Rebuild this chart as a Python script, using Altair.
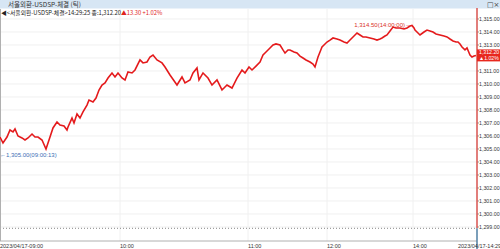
import altair as alt
import pandas as pd

# ---- data (tick index along the session, price) ----
tick_idx = [0, 3, 7, 10, 13, 15, 18, 22, 25, 28, 32, 35, 38, 42, 46, 50, 53, 57, 60, 64,
            67, 68, 72, 74, 77, 80, 83, 87, 89, 93, 96, 99, 102, 105, 108, 112, 115, 118, 122, 125,
            128, 132, 135, 140, 143, 147, 150, 153, 157, 162, 165, 170, 177, 182, 185, 190, 193, 197, 199, 203,
            208, 212, 217, 222, 227, 232, 237, 242, 245, 249, 252, 256, 260, 263, 266,
            270, 273, 276, 280, 283, 285, 288, 290, 294, 297, 300, 303, 306, 310, 313, 315, 318, 320, 322, 325,
            327, 330, 333, 337, 340, 344, 347, 350, 352, 355, 357, 360, 363, 366, 370, 374, 377, 380, 382, 385,
            387, 390, 393, 396, 400, 404, 407, 410, 412, 414, 415, 418, 420, 424, 427, 430, 433, 436, 440, 444,
            447, 450, 453, 456, 458, 460, 462, 465, 467, 470, 472, 474, 476]
price = [1305.92, 1305.46, 1305.92, 1306.46, 1306.31, 1306.54, 1306.00, 1305.85, 1305.69, 1305.85,
         1306.15, 1305.92, 1305.92, 1305.69, 1305.00, 1305.92, 1306.62, 1307.08, 1306.85, 1306.77,
         1306.46, 1306.69, 1307.38, 1307.00, 1307.69, 1307.38, 1307.85, 1308.38, 1308.77, 1308.62,
         1308.92, 1309.54, 1309.92, 1310.08, 1310.46, 1310.85, 1310.54, 1310.85, 1310.46, 1310.31,
         1310.92, 1310.85, 1311.08, 1311.85, 1311.62, 1311.69, 1312.08, 1312.23, 1311.85, 1311.62,
         1311.31, 1310.69, 1309.92, 1310.54, 1310.08, 1310.31, 1310.85, 1311.23, 1310.31, 1310.85,
         1310.46, 1309.92, 1310.31, 1309.54, 1309.92, 1309.69, 1310.46, 1311.08, 1310.85, 1311.31,
         1311.08, 1311.38, 1311.69, 1312.23, 1312.46,
         1312.77, 1313.00, 1313.08, 1313.00, 1312.62, 1312.38, 1312.62, 1312.62, 1312.46, 1312.38,
         1312.15, 1312.00, 1311.85, 1311.69, 1311.54, 1311.31, 1312.08, 1312.46, 1312.85, 1313.08,
         1313.23, 1313.38, 1313.54, 1313.46, 1313.38, 1313.23, 1313.15, 1313.38, 1313.54, 1313.77,
         1313.92, 1313.77, 1313.62, 1313.62, 1313.54, 1313.46, 1313.38, 1313.46, 1313.54, 1313.69,
         1313.77, 1314.08, 1314.38, 1314.31, 1314.31, 1314.23, 1314.31, 1314.46, 1314.50, 1314.31,
         1314.15, 1313.92, 1313.77, 1314.00, 1314.15, 1314.08, 1314.00, 1313.85, 1313.77, 1313.69,
         1313.62, 1313.46, 1313.31, 1313.23, 1313.23, 1313.08, 1312.85, 1312.62, 1312.77, 1312.23,
         1312.08, 1312.15, 1312.20]

x_label_idx = [0, 120, 248, 327, 413, 458]
x_labels = ["2023/04/17-09:00", "10:00", "11:00", "12:00", "14:00", "2023/04/17-14:29"]
grid_idx = [120, 248, 327, 413]
y_ticks = [1299, 1300, 1301, 1302, 1303, 1304, 1305, 1306, 1307, 1308, 1309, 1310, 1311, 1312, 1313, 1314, 1315]
# 1,312.00 sits under the last-price box, so its label is not visible
y_label_vals = [1299, 1300, 1301, 1302, 1303, 1304, 1305, 1306, 1307, 1308, 1309, 1310, 1311, 1313, 1314, 1315]

prev_close = 1298.90
last_price = 1312.20
last_idx = 477
min_idx, min_price, min_label = 45, 1305.00, "←1,305.00(09:00:13)"
max_idx, max_price, max_label = 412, 1314.50, "1,314.50(14:00:00)→"

title_text = "서울외환-USDSP-체결 (틱)"
header_black = "◀<서울외환-USDSP-체결>14:29:25 종:1,312.20"
header_red = "▲13.30 +1.02%"
box_line1 = "1,312.20"
box_line2 = "▲1.02%"

FONT = "Noto Sans CJK KR"
XS = alt.Scale(domain=[0, 477], nice=False, zero=False)
YS = alt.Scale(domain=[1297.923, 1315.769], nice=False, zero=False)

df = pd.DataFrame({"i": tick_idx, "p": price})
one = pd.DataFrame({"k": [0]})
ref = pd.DataFrame({"i": [last_idx], "p": [prev_close], "lp": [last_price]})
ticks_df = pd.DataFrame({"v": y_ticks})
labels_df = pd.DataFrame({"v": y_label_vals})

X = lambda f: alt.X(f, scale=XS, axis=None)
Y = lambda f: alt.Y(f, scale=YS, axis=None)

# horizontal grid
hgrid = alt.Chart(ticks_df).mark_rule(color="#f0f0f0", strokeWidth=1).encode(
    y=Y("v:Q"), x=alt.value(0), x2=alt.value(477))
# right axis ticks and labels
ytick_marks = alt.Chart(ticks_df).mark_rule(color="#999999", strokeWidth=1).encode(
    y=Y("v:Q"), x=alt.value(477), x2=alt.value(479))
ylabels = alt.Chart(labels_df).mark_text(align="left", baseline="middle", fontSize=5.3,
                                         font="Liberation Sans", color="#333333").encode(
    y=Y("v:Q"), x=alt.value(479), text=alt.Text("v:Q", format=",.2f"))

vgrid = alt.Chart(pd.DataFrame({"g": grid_idx})).mark_rule(color="#f0f0f0", strokeWidth=1).encode(
    x=X("g:Q"), y=alt.value(0), y2=alt.value(232))

prev_line = alt.Chart(ref).mark_rule(color="#888888", strokeDash=[1, 2], strokeWidth=1).encode(
    y=Y("p:Q"), x=alt.value(0), x2=alt.value(477))

border_left = alt.Chart(one).mark_rule(color="#b0b0b0").encode(
    x=alt.value(0.5), y=alt.value(0), y2=alt.value(232))
border_bottom = alt.Chart(one).mark_rule(color="#b0b0b0").encode(
    y=alt.value(232), x=alt.value(0), x2=alt.value(477))

line = alt.Chart(df).mark_line(color="#e41a1c", strokeWidth=1.6).encode(x=X("i:Q"), y=Y("p:Q"))

red_vline = alt.Chart(ref).mark_rule(color="#d9534f", strokeWidth=1.5).encode(
    x=X("i:Q"), y=Y("p:Q"), y2=alt.value(-1))
blue_vline = alt.Chart(ref).mark_rule(color="#4f7fa3", strokeWidth=1.5).encode(
    x=X("i:Q"), y=Y("p:Q"), y2=alt.value(240))

min_text = alt.Chart(pd.DataFrame({"i": [min_idx], "p": [min_price], "t": [min_label]})).mark_text(
    align="left", baseline="top", dx=-45, dy=3, fontSize=6, font="Liberation Sans", color="#3b6fb6").encode(
    x=X("i:Q"), y=Y("p:Q"), text="t:N")
max_text = alt.Chart(pd.DataFrame({"i": [max_idx], "p": [max_price], "t": [max_label]})).mark_text(
    align="right", baseline="middle", dx=-1, fontSize=6, font="Liberation Sans", color="#d9302a").encode(
    x=X("i:Q"), y=Y("p:Q"), text="t:N")

xlab = alt.Chart(pd.DataFrame({"i": x_label_idx, "t": x_labels})).mark_text(
    align="left", baseline="middle", fontSize=5.5, font="Liberation Sans", color="#333333").encode(
    x=X("i:Q"), y=alt.value(237), text="t:N")

# price box on the right axis
box = alt.Chart(ref).mark_rect(color="#e8281e", yOffset=-6, y2Offset=6).encode(
    x=alt.value(477), x2=alt.value(500), y=Y("lp:Q"), y2="lp:Q")
box_t1 = alt.Chart(ref).mark_text(fontSize=5.2, font="Liberation Sans", color="white",
                                  align="left", dy=-3).encode(
    x=alt.value(479), y=Y("lp:Q"), text=alt.value(box_line1))
box_t2 = alt.Chart(ref).mark_text(fontSize=5.2, font="Liberation Sans", color="white",
                                  align="left", dy=3).encode(
    x=alt.value(479), y=Y("lp:Q"), text=alt.value(box_line2))

# title bar and header
title_bar = alt.Chart(one).mark_rect(color="#d7e6f4").encode(
    x=alt.value(0), x2=alt.value(500), y=alt.value(-9), y2=alt.value(-0.5))
title_t = alt.Chart(one).mark_text(align="left", baseline="middle", fontSize=6.5, font=FONT,
                                   color="#333333").encode(
    x=alt.value(8), y=alt.value(-4.5), text=alt.value(title_text))
icons_t = alt.Chart(one).mark_text(align="left", baseline="middle", fontSize=7, font="DejaVu Sans",
                                   color="#444444").encode(
    x=alt.value(487), y=alt.value(-4.5), text=alt.value("□×"))
hdr1 = alt.Chart(one).mark_text(align="left", baseline="middle", fontSize=5.8, font=FONT,
                                color="#222222").encode(
    x=alt.value(1), y=alt.value(4), text=alt.value(header_black))
hdr2 = alt.Chart(one).mark_text(align="left", baseline="middle", fontSize=5.8, font=FONT,
                                color="#e0241c").encode(
    x=alt.value(121), y=alt.value(4), text=alt.value(header_red))

chart = alt.layer(
    title_bar, hgrid, vgrid, prev_line, border_left, border_bottom, ytick_marks, ylabels, line,
    red_vline, blue_vline, min_text, max_text, xlab, box, box_t1, box_t2, title_t, icons_t, hdr1, hdr2
).properties(
    width=477, height=232,
    autosize=alt.AutoSizeParams(type="none"),
    padding={"left": 0, "top": 9, "right": 23, "bottom": 8},
    background="white"
).configure_view(stroke=None)

chart.save("out.html", embed_options={"renderer": "svg", "actions": False})
